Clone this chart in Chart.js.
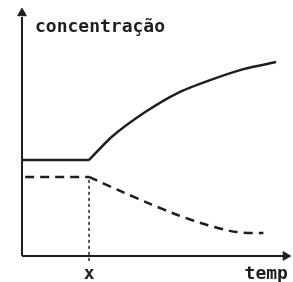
<!DOCTYPE html>
<html>
<head>
<meta charset="utf-8">
<script src="https://cdn.jsdelivr.net/npm/chart.js@4/dist/chart.umd.min.js"></script>
<style>
html,body{margin:0;padding:0;background:#fff;}
#wrap{width:293px;height:282px;}
</style>
</head>
<body>
<div id="wrap"><canvas id="c" width="293" height="282"></canvas></div>
<script>
// Data (arbitrary units: time 0..10, concentration 0..10)
const xMark = 2.53;
const solidFlatX = [0, 2.53];
const solidFlatY = [3.93, 3.93];
const solidCurveX = [2.53, 3.38, 4.65, 5.87, 7.10, 8.36, 9.59];
const solidCurveY = [3.93, 4.88, 5.90, 6.68, 7.21, 7.66, 7.95];
const dashFlatX = [0.12, 2.53];
const dashFlatY = [3.24, 3.24];
const dashCurveX = [2.53, 3.64, 4.76, 5.87, 6.99, 8.10, 9.11];
const dashCurveY = [3.24, 2.70, 2.17, 1.68, 1.27, 0.98, 0.94];
const yLabel = 'concentração';
const xLabel = 'temp';
const xTickLabel = 'x';

const ink = '#1e1e1e';
const pts = (xs, ys) => xs.map((x, i) => ({x: x, y: ys[i]}));

const textPlugin = {
  id: 'texts',
  afterDraw(chart) {
    const {ctx, scales} = chart;
    const xs = scales.x, ys = scales.y;
    ctx.save();
    ctx.fillStyle = ink;
    ctx.font = 'bold 18px "DejaVu Sans Mono"';
    ctx.textBaseline = 'alphabetic';
    ctx.textAlign = 'left';
    ctx.fillText(yLabel, xs.getPixelForValue(0) + 13, ys.getPixelForValue(10) + 20);
    ctx.textAlign = 'center';
    ctx.fillText(xTickLabel, xs.getPixelForValue(xMark), ys.getPixelForValue(0) + 23);
    ctx.textAlign = 'left';
    ctx.fillText(xLabel, xs.getPixelForValue(8.4), ys.getPixelForValue(0) + 23);
    ctx.restore();
  }
};

new Chart(document.getElementById('c'), {
  type: 'line',
  data: {
    datasets: [
      { data: pts([0, 0], [0, 9.8]), borderColor: ink, borderWidth: 2, pointRadius: 0, tension: 0 },
      { data: pts([0, 9.9], [0, 0]), borderColor: ink, borderWidth: 2, pointRadius: 0, tension: 0 },
      { data: [{x: 0, y: 9.95}], showLine: false, pointStyle: 'triangle', pointRadius: 5, backgroundColor: ink, borderColor: ink, borderWidth: 1 },
      { data: [{x: 9.95, y: 0}], showLine: false, pointStyle: 'triangle', rotation: 90, pointRadius: 5, backgroundColor: ink, borderColor: ink, borderWidth: 1 },
      { data: pts([xMark, xMark], [-0.2, dashFlatY[0]]), borderColor: ink, borderWidth: 1.5, borderDash: [3, 3], pointRadius: 0, tension: 0 },
      { data: pts(solidFlatX, solidFlatY), borderColor: ink, borderWidth: 2.5, pointRadius: 0, tension: 0 },
      { data: pts(solidCurveX, solidCurveY), borderColor: ink, borderWidth: 2.5, pointRadius: 0, tension: 0.25 },
      { data: pts(dashFlatX, dashFlatY), borderColor: ink, borderWidth: 2.5, borderDash: [9, 6], pointRadius: 0, tension: 0 },
      { data: pts(dashCurveX, dashCurveY), borderColor: ink, borderWidth: 2.5, borderDash: [9, 6], pointRadius: 0, tension: 0.25 }
    ]
  },
  options: {
    responsive: false,
    animation: false,
    clip: false,
    layout: { padding: { left: 22, right: 2, top: 12, bottom: 26 } },
    plugins: { legend: { display: false }, tooltip: { enabled: false }, title: { display: false } },
    scales: {
      x: { type: 'linear', min: 0, max: 10, display: false },
      y: { type: 'linear', min: 0, max: 10, display: false }
    }
  },
  plugins: [textPlugin]
});
</script>
</body>
</html>
